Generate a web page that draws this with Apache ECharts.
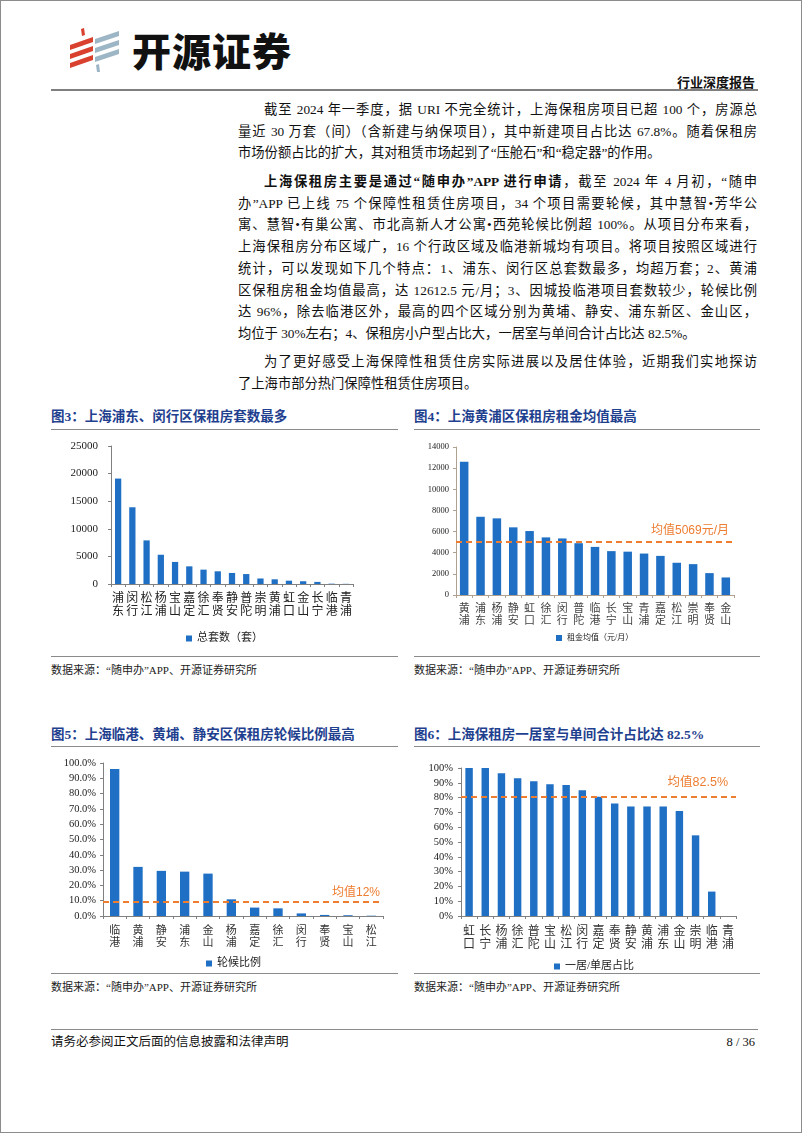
<!DOCTYPE html>
<html><head><meta charset="utf-8">
<script src="https://cdn.jsdelivr.net/npm/echarts@6/dist/echarts.min.js"></script>
<style>
html,body{margin:0;padding:0;background:#fff;}
#page{position:relative;width:800px;height:1131px;border:1px solid #8c8c8c;overflow:hidden;font-family:"Liberation Serif","Noto Sans CJK SC",serif;color:#111;}
.abs{position:absolute;}
.ln{position:absolute;left:237px;width:519px;height:21.7px;line-height:21.7px;font-size:13.3px;white-space:nowrap;text-align:justify;text-align-last:justify;}
.ln.ind{left:263px;width:493px;}
.ln.last{text-align-last:left;}
.ttl{position:absolute;font-size:13.5px;font-weight:bold;color:#1f3f8f;white-space:nowrap;}
.hr{position:absolute;height:1px;background:#8a8a8a;}
.src{position:absolute;font-size:11px;color:#222;white-space:nowrap;}
.chart{position:absolute;}
</style></head><body>
<div id="page">
  <!-- logo -->
  <svg class="abs" style="left:66px;top:26px" width="56" height="46" viewBox="0 0 56 46">
    <polygon points="14,2 17,1 18,8 15,9" fill="#d9412e"/>
    <polygon points="3,18 26,10 26,15 3,23" fill="#d9412e"/>
    <polygon points="3,27 26,19 26,24 3,32" fill="#d9412e"/>
    <polygon points="3,36 26,28 26,33 3,41" fill="#d9412e"/>
    <polygon points="28,12 52,4 52,9 28,17" fill="#9db6c6"/>
    <polygon points="28,21 52,13 52,18 28,26" fill="#9db6c6"/>
    <polygon points="28,30 52,22 52,27 28,35" fill="#9db6c6"/>
    <polygon points="29,38 32,37 33,45 30,45" fill="#9db6c6"/>
  </svg>
  <div class="abs" style="left:131px;top:24px;font-family:'Noto Sans CJK SC';font-weight:900;font-size:39px;line-height:48px;color:#111;letter-spacing:1px;">开源证券</div>
  <div class="abs" style="right:46px;top:73px;font-size:13px;font-weight:bold;line-height:18px;">行业深度报告</div>
  <div class="hr" style="left:50px;top:88px;width:707px;height:2px;background:#7f7f7f;"></div>

  <!-- body text -->
  <div class="ln ind" style="top:98px">截至 2024 年一季度，据 URI 不完全统计，上海保租房项目已超 100 个，房源总</div>
  <div class="ln" style="top:119.7px">量近 30 万套（间）（含新建与纳保项目），其中新建项目占比达 67.8%。随着保租房</div>
  <div class="ln last" style="top:141.4px">市场份额占比的扩大，其对租赁市场起到了“压舱石”和“稳定器”的作用。</div>

  <div class="ln ind" style="top:170px"><b>上海保租房主要是通过“随申办”APP 进行申请</b>，截至 2024 年 4 月初，“随申</div>
  <div class="ln" style="top:191.7px">办”APP 已上线 75 个保障性租赁住房项目，34 个项目需要轮候，其中慧智•芳华公</div>
  <div class="ln" style="top:213.4px">寓、慧智•有巢公寓、市北高新人才公寓•西苑轮候比例超 100%。从项目分布来看，</div>
  <div class="ln" style="top:235.1px">上海保租房分布区域广，16 个行政区域及临港新城均有项目。将项目按照区域进行</div>
  <div class="ln" style="top:256.8px">统计，可以发现如下几个特点：1、浦东、闵行区总套数最多，均超万套；2、黄浦</div>
  <div class="ln" style="top:278.5px">区保租房租金均值最高，达 12612.5 元/月；3、因城投临港项目套数较少，轮候比例</div>
  <div class="ln" style="top:300.2px">达 96%，除去临港区外，最高的四个区域分别为黄埔、静安、浦东新区、金山区，</div>
  <div class="ln last" style="top:321.9px">均位于 30%左右；4、保租房小户型占比大，一居室与单间合计占比达 82.5%。</div>

  <div class="ln ind" style="top:350px">为了更好感受上海保障性租赁住房实际进展以及居住体验，近期我们实地探访</div>
  <div class="ln last" style="top:371.7px">了上海市部分热门保障性租赁住房项目。</div>

  <!-- figure titles & rules -->
  <div class="ttl" style="left:50px;top:404px">图3：上海浦东、闵行区保租房套数最多</div>
  <div class="ttl" style="left:413px;top:404px">图4：上海黄浦区保租房租金均值最高</div>
  <div class="hr" style="left:50px;top:428px;width:347px;"></div>
  <div class="hr" style="left:413px;top:428px;width:346px;"></div>
  <div class="hr" style="left:50px;top:655px;width:347px;"></div>
  <div class="hr" style="left:413px;top:655px;width:346px;"></div>
  <div class="src" style="left:50px;top:660px">数据来源：“随申办”APP、开源证券研究所</div>
  <div class="src" style="left:413px;top:660px">数据来源：“随申办”APP、开源证券研究所</div>

  <div class="ttl" style="left:50px;top:722px">图5：上海临港、黄埔、静安区保租房轮候比例最高</div>
  <div class="ttl" style="left:413px;top:722px">图6：上海保租房一居室与单间合计占比达 82.5%</div>
  <div class="hr" style="left:50px;top:745px;width:347px;"></div>
  <div class="hr" style="left:413px;top:745px;width:346px;"></div>
  <div class="hr" style="left:50px;top:972px;width:347px;"></div>
  <div class="hr" style="left:413px;top:972px;width:346px;"></div>
  <div class="src" style="left:50px;top:977px">数据来源：“随申办”APP、开源证券研究所</div>
  <div class="src" style="left:413px;top:977px">数据来源：“随申办”APP、开源证券研究所</div>

  <!-- footer -->
  <div class="hr" style="left:50px;top:1028px;width:707px;"></div>
  <div class="abs" style="left:50px;top:1032px;font-size:12.5px;line-height:18px;">请务必参阅正文后面的信息披露和法律声明</div>
  <div class="abs" style="right:46px;top:1032px;font-size:12.5px;line-height:18px;">8 / 36</div>

  <div id="c3" class="chart" style="left:50px;top:432px;width:346px;height:218px"></div>
  <div id="c4" class="chart" style="left:411px;top:432px;width:350px;height:218px"></div>
  <div id="c5" class="chart" style="left:50px;top:750px;width:346px;height:222px"></div>
  <div id="c6" class="chart" style="left:411px;top:750px;width:350px;height:222px"></div>
</div>
<script>
// ---- data ----
const cats3 = ['浦东','闵行','松江','杨浦','宝山','嘉定','徐汇','奉贤','静安','普陀','崇明','黄浦','虹口','金山','长宁','临港','青浦'];
const vals3 = [19100,13900,7900,5300,4000,3200,2600,2300,2000,1800,1000,850,600,500,380,60,30];
const name3 = '总套数（套）';

const cats4 = ['黄浦','浦东','杨浦','静安','虹口','徐汇','闵行','普陀','临港','长宁','宝山','青浦','嘉定','松江','崇明','奉贤','金山'];
const vals4 = [12612.5,7400,7250,6400,6050,5450,5350,4900,4550,4150,4100,3920,3700,3050,2920,2070,1660];
const name4 = '租金均值（元/月）';
const mean4 = 5069;
const meanLabel4 = '均值5069元/月';

const cats5 = ['临港','黄浦','静安','浦东','金山','杨浦','嘉定','徐汇','闵行','奉贤','宝山','松江'];
const vals5 = [96,32.1,29.5,29,27.7,10.9,5.5,5.0,1.7,0.7,0.5,0.2];
const name5 = '轮候比例';
const meanLine5 = 9.6;
const meanLabel5 = '均值12%';

const cats6 = ['虹口','长宁','杨浦','徐汇','普陀','宝山','松江','闵行','嘉定','奉贤','静安','黄浦','浦东','金山','崇明','临港','青浦'];
const vals6 = [100,100,96.5,93,91,89,88.5,85,80.5,76,74,74,74,71,54.5,16.5,0];
const name6 = '一居/单居占比';
const meanLine6 = 80.5;
const meanLabel6 = '均值82.5%';

const BLUE = '#1f6fc5';
const ORANGE = '#ed7d31';
const SERIF = '"Liberation Serif","Noto Sans CJK SC",serif';
const SANS = '"Liberation Sans","Noto Sans CJK SC",sans-serif';
const vert = v => v.split('').join('\n');

function build(o){
  const opt = {
    animation:false,
    grid:o.grid,
    legend:{data:[o.name],left:o.legLeft,top:o.legTop,itemWidth:6,itemHeight:6,itemGap:4,icon:'rect',
      textStyle:{fontSize:o.legFont,fontFamily:SERIF,color:'#222'}},
    xAxis:{type:'category',data:o.cats,
      axisLine:{lineStyle:{color:o.axisColor,width:1}},
      axisTick:{show:true,length:3,lineStyle:{color:o.axisColor}},
      axisLabel:{interval:0,formatter:vert,fontSize:o.xFont,lineHeight:o.xFont+1,color:o.xColor,fontFamily:SERIF,margin:o.xMargin}},
    yAxis:{type:'value',min:0,max:o.max,interval:o.interval,
      axisLine:{show:true,lineStyle:{color:o.axisColor,width:1}},
      axisTick:{show:true,length:3,lineStyle:{color:o.axisColor}},
      splitLine:{show:false},
      axisLabel:{fontSize:o.yFont,color:'#222',fontFamily:SERIF,margin:o.yMargin,formatter:o.yFmt || (v=>String(v))}},
    series:[{type:'bar',name:o.name,data:o.vals,barCategoryGap:o.gap,itemStyle:{color:BLUE}}]
  };
  if(o.mean!==undefined){
    opt.series[0].markLine={silent:true,symbol:'none',
      lineStyle:{color:ORANGE,type:[6,4],width:1.8},
      label:{position:'insideEndTop',formatter:o.meanLabel,color:ORANGE,fontSize:o.mlFont,fontFamily:SANS,distance:o.mlDist},
      data:[{yAxis:o.mean}]};
  }
  return opt;
}

echarts.init(document.getElementById('c3')).setOption(build({
  grid:{left:60,top:13,right:44,bottom:67},cats:cats3,vals:vals3,name:name3,
  legLeft:130,legTop:195,legFont:11,axisColor:'#808080',xFont:12,xColor:'#222',xMargin:8,
  max:25000,interval:5000,yFont:11,yMargin:13,gap:'56%'
}));
echarts.init(document.getElementById('c4')).setOption(build({
  grid:{left:44,top:14,right:28,bottom:56},cats:cats4,vals:vals4,name:name4,
  legLeft:139,legTop:196,legFont:8,axisColor:'#b0a090',xFont:11,xColor:'#444',xMargin:8,
  max:14000,interval:2000,yFont:8.5,yMargin:7,gap:'48%',
  mean:mean4,meanLabel:meanLabel4,mlFont:12,mlDist:5
}));
echarts.init(document.getElementById('c5')).setOption(build({
  grid:{left:52,top:12,right:14,bottom:57},cats:cats5,vals:vals5,name:name5,
  legLeft:150,legTop:202,legFont:11,axisColor:'#808080',xFont:11,xColor:'#333',xMargin:9,
  max:100,interval:10,yFont:10.5,yMargin:7,gap:'60%',yFmt:v=>v.toFixed(1)+'%',
  mean:meanLine5,meanLabel:meanLabel5,mlFont:12,mlDist:3
}));
echarts.init(document.getElementById('c6')).setOption(build({
  grid:{left:49,top:17,right:26,bottom:57},cats:cats6,vals:vals6,name:name6,
  legLeft:137,legTop:205,legFont:11,axisColor:'#808080',xFont:12,xColor:'#333',xMargin:9,
  max:100,interval:10,yFont:10.5,yMargin:8,gap:'54%',yFmt:v=>v+'%',
  mean:meanLine6,meanLabel:meanLabel6,mlFont:12.5,mlDist:8
}));
</script>
</body></html>
